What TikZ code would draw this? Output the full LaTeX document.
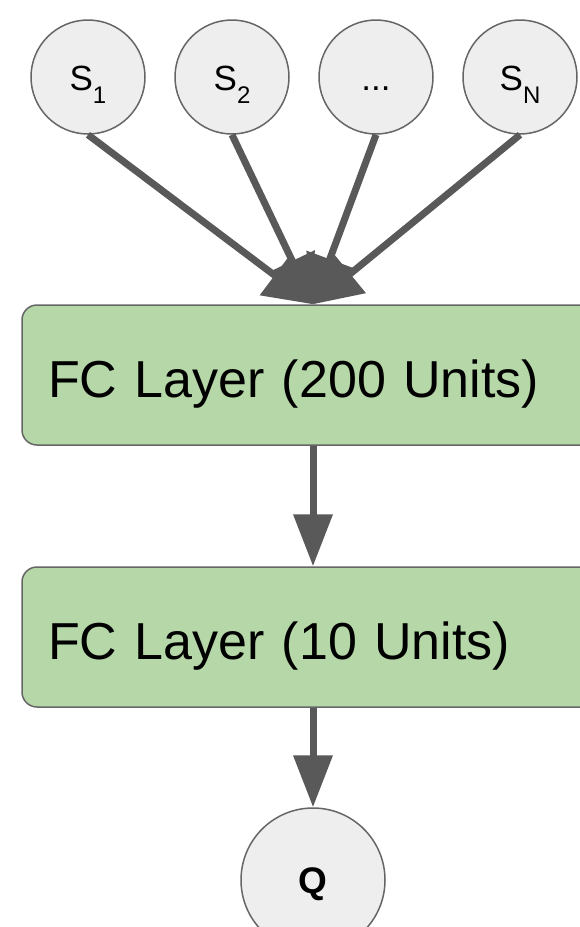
\documentclass[tikz,border=0pt]{standalone}
\usepackage{fontspec}
\setmainfont{Liberation Sans}
\usetikzlibrary{arrows.meta}
\definecolor{edgegray}{HTML}{595959}
\definecolor{nodefill}{HTML}{EEEEEE}
\definecolor{boxfill}{HTML}{B6D7A8}
\definecolor{outline}{HTML}{666666}
\begin{document}
\begin{tikzpicture}[x=1pt,y=-1pt,
  inp/.style={circle, draw=outline, line width=1.5pt, fill=nodefill, minimum size=114pt, inner sep=0pt, font=\fontsize{35}{40}\selectfont, text height=30pt, text depth=4pt},
  fcbox/.style={rectangle, rounded corners=15pt, draw=outline, line width=1.5pt, fill=boxfill, minimum height=140pt, text width=530pt, inner xsep=26pt, align=left, font=\fontsize{52}{60}\selectfont, text height=50pt, text depth=6pt},
  arrtop/.style={draw=edgegray, line width=7pt, -{Triangle[length=48pt,width=48pt]}},
  arrdown/.style={draw=edgegray, line width=7pt, -{Triangle[length=52pt,width=38pt]}}]
\clip (0,0) rectangle (580,927);
\node[inp] (s1) at (88,77) {S\raisebox{-13pt}{\fontsize{24}{24}\selectfont 1}};
\node[inp] (s2) at (232,77) {S\raisebox{-13pt}{\fontsize{24}{24}\selectfont 2}};
\node[inp] (s3) at (376,77) {...};
\node[inp] (sn) at (520,77) {S\raisebox{-13pt}{\fontsize{24}{24}\selectfont N}};
\node[fcbox] (fc1) at (313,375) {FC Layer (200 Units)};
\node[fcbox] (fc2) at (313,637) {FC Layer (10 Units)};
\node[inp, minimum size=144pt, font=\bfseries\fontsize{37}{40}\selectfont, text height=27pt, text depth=0pt] (q) at (313,880) {Q};
\draw[arrtop] (s1.south) -- (fc1.north);
\draw[arrtop] (s2.south) -- (fc1.north);
\draw[arrtop] (s3.south) -- (fc1.north);
\draw[arrtop] (sn.south) -- (fc1.north);
\draw[arrdown] (fc1.south) -- (fc2.north);
\draw[arrdown] (fc2.south) -- (q.north);
\end{tikzpicture}
\end{document}
